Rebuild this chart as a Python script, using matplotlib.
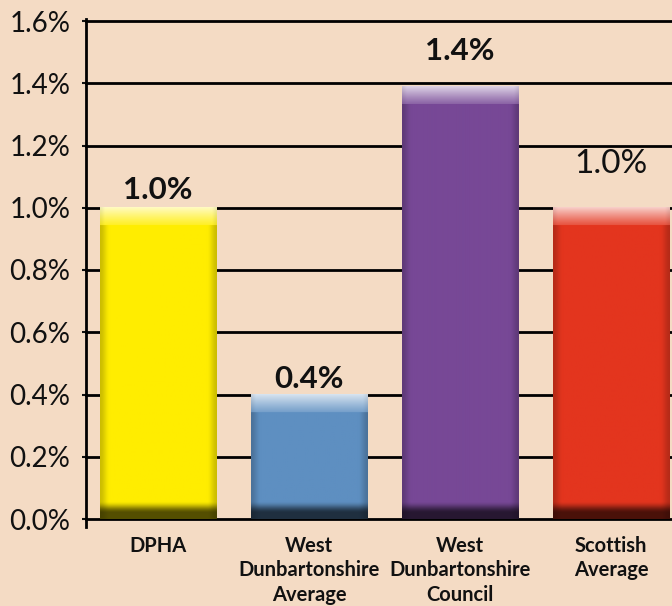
import numpy as np
import matplotlib
matplotlib.use("Agg")
import matplotlib.pyplot as plt
from matplotlib.colors import to_rgb

# ---------------- data ----------------
categories = ["DPHA", "West\nDunbartonshire\nAverage",
              "West\nDunbartonshire\nCouncil", "Scottish\nAverage"]
values = [1.0, 0.4, 1.39, 1.0]
value_labels = ["1.0%", "0.4%", "1.4%", "1.0%"]
y_ticks = [0.0, 0.2, 0.4, 0.6, 0.8, 1.0, 1.2, 1.4, 1.6]
y_tick_labels = ["0.0%", "0.2%", "0.4%", "0.6%", "0.8%", "1.0%", "1.2%", "1.4%", "1.6%"]

# ---------------- style ----------------
bar_colors = ["#FFED00", "#5E8FC1", "#774896", "#E3351E"]
label_offsets_px = [9, 6, 26, 35]
label_sizes = [22.5, 22.5, 22.5, 24]
label_weights = ["bold", "bold", "bold", "normal"]
BG = "#F4DBC4"
FONT = ["Lato", "DejaVu Sans"]
plt.rcParams["font.family"] = FONT

W, H, DPI = 672, 606, 100
fig = plt.figure(figsize=(W / DPI, H / DPI), dpi=DPI, facecolor=BG)
ax_l, ax_r, ax_t, ax_b = 86, 672, 21, 519
ax = fig.add_axes([ax_l / W, 1 - ax_b / H, (ax_r - ax_l) / W, (ax_b - ax_t) / H])
ax.set_facecolor(BG)

x = np.arange(len(categories))
xlim = (-0.477, 3.404)
ylim = (0, 1.6)
px_x = (ax_r - ax_l) / (xlim[1] - xlim[0])
px_y = (ax_b - ax_t) / (ylim[1] - ylim[0])
bar_w = 0.77

bars = ax.bar(x, values, width=bar_w, color=bar_colors, zorder=2)


def smooth(t):
    t = np.clip(t, 0, 1)
    return t * t * (3 - 2 * t)


def shaded(color, wpx, hpx):
    base = np.array(to_rgb(color))
    w = max(int(round(wpx)), 2)
    h = max(int(round(hpx)), 2)
    xs = np.arange(w) + 0.5
    ys = np.arange(h) + 0.5
    dx = np.minimum(xs, w - xs)
    side = 0.80 + 0.20 * smooth(dx / 10.0)
    img = np.ones((h, w, 3)) * base[None, None, :] * side[None, :, None]
    # bottom dark band
    dyb = h - ys
    f = smooth((dyb - 6) / 12.0)
    dark = base * 0.33
    dark_img = np.ones((h, w, 3)) * dark[None, None, :] * (0.85 + 0.15 * smooth(dx / 10.0))[None, :, None]
    img = dark_img * (1 - f)[:, None, None] + img * f[:, None, None]
    # top light band
    band = 18
    top_rows = ys < band
    a = 0.15 + 0.62 * (1 - ys / band) ** 1.1
    a = np.where(top_rows, a, 0.0)
    top_side = 0.93 + 0.07 * smooth(dx / 6.0)
    light = base[None, None, :] * (1 - a[:, None, None]) + a[:, None, None]
    light = light * top_side[None, :, None]
    img = np.where(top_rows[:, None, None], light, img)
    return np.clip(img, 0, 1)


for bar, c in zip(bars, bar_colors):
    x0, bw, hv = bar.get_x(), bar.get_width(), bar.get_height()
    img = shaded(c, bw * px_x, hv * px_y)
    ax.imshow(img, extent=(x0, x0 + bw, 0, hv), origin="upper", aspect="auto",
              interpolation="bilinear", zorder=2.1)

ax.set_xlim(*xlim)
ax.set_ylim(*ylim)

# value labels
for xi, v, lab, off, sz, wt in zip(x, values, value_labels, label_offsets_px, label_sizes, label_weights):
    ax.annotate(lab, (xi, v), xytext=(0, off * 72 / DPI), textcoords="offset points",
                ha="center", va="baseline", fontsize=sz, fontweight=wt, color="#111111",
                zorder=5)

# axes styling
ax.set_yticks(y_ticks)
ax.set_yticklabels(y_tick_labels)
ax.set_xticks(x)
ax.set_xticklabels(categories, fontsize=14.5, fontweight="bold", color="#111111",
                   linespacing=1.3)
ax.tick_params(axis="x", length=0, pad=12)
ax.tick_params(axis="y", direction="out", length=3.2, width=1.5, pad=8,
               labelsize=20, colors="#111111")
ax.grid(axis="y", color="black", linewidth=2)
ax.grid(axis="x", visible=False)
ax.set_axisbelow(True)
for gl in ax.get_ygridlines():
    gl.set_clip_on(False)
for s in ["top", "right", "bottom"]:
    ax.spines[s].set_visible(False)
ax.spines["left"].set_linewidth(2)
ax.spines["left"].set_color("black")
ax.spines["left"].set_bounds(-0.026, 1.605)

fig.savefig("out.png", dpi=DPI, facecolor=BG)
